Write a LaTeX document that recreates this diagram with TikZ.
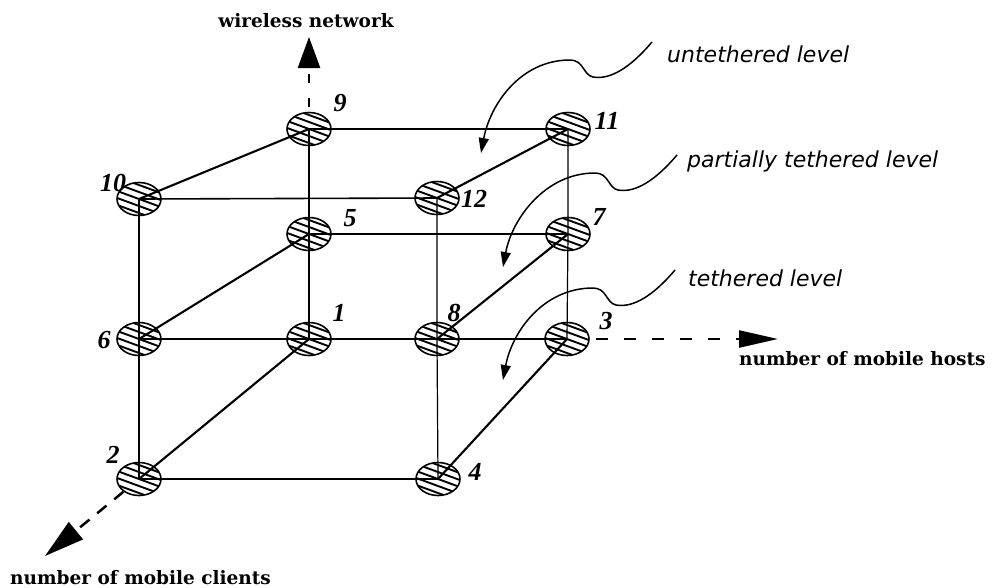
\documentclass[tikz,border=0pt]{standalone}
\usepackage{fontspec}
\setmainfont{Liberation Serif}
\newfontfamily\axisfont{DejaVu Serif}
\newfontfamily\levelfont{DejaVu Sans}
\usetikzlibrary{arrows.meta,calc,shapes.geometric}

\begin{document}
\begin{tikzpicture}[x=1pt,y=-1pt,
  site/.style={shape=ellipse, draw, line width=1.6pt, fill=white,
    minimum width=44pt, minimum height=33pt, inner sep=0pt,
    path picture={\foreach \k in {-4,...,4}
      \draw[line width=1.9pt] ($(path picture bounding box.center)+(-30,7*\k-11)$) -- ++(60,22);}},
  thinedge/.style={line width=1.2pt},
  flatedge/.style={line width=1.6pt},
  diagedge/.style={line width=2.1pt},
  axis/.style={line width=2.5pt},
  num/.style={font=\fontsize{26}{26}\selectfont\bfseries\itshape, inner sep=0pt},
  axislabel/.style={font=\axisfont\fontsize{18.5}{18.5}\selectfont\bfseries, inner sep=0pt},
  levellabel/.style={font=\levelfont\fontsize{22}{22}\selectfont\itshape, inner sep=0pt, anchor=base west},
  callout/.style={line width=1.5pt, -{Triangle[length=15pt,width=10pt]}}]

\useasboundingbox (0,0) rectangle (997,587);

% lattice sites
\node[site] (n9)  at (309,129) {};
\node[site] (n11) at (568,129) {};
\node[site] (n10) at (139,199) {};
\node[site] (n12) at (437,198) {};
\node[site] (n5)  at (309,234) {};
\node[site] (n7)  at (568,234) {};
\node[site] (n6)  at (139,339) {};
\node[site] (n1)  at (309,339) {};
\node[site] (n8)  at (437,339) {};
\node[site] (n3)  at (567,339) {};
\node[site] (n2)  at (139,479) {};
\node[site] (n4)  at (438,479) {};

% vertical edges
\draw[thinedge] (n10.center) -- (n6.center) -- (n2.center);
\draw[thinedge] (n9.center) -- (n5.center) -- (n1.center);
\draw[thinedge] (n12.center) -- (n8.center) -- (n4.center);
\draw[thinedge] (n11.center) -- (n7.center) -- (n3.center);
% horizontal edges
\draw[flatedge] (n9.center) -- (n11.center);
\draw[flatedge] (n10.center) -- (n12.center);
\draw[flatedge] (n5.center) -- (n7.center);
\draw[flatedge] (n6.center) -- (n1.center) -- (n8.center) -- (n3.center);
\draw[flatedge] (n2.center) -- (n4.center);
% depth edges
\draw[diagedge] (n10.center) -- (n9.center);
\draw[diagedge] (n12.center) -- (n11.center);
\draw[diagedge] (n6.center) -- (n5.center);
\draw[diagedge] (n8.center) -- (n7.center);
\draw[diagedge] (n2.center) -- (n1.center);
\draw[diagedge] (n4.center) -- (n3.center);

% site numbers
\node[num] (t9)  at (340,103) {9};
\node[num] (t11) at (607,121) {11};
\node[num] (t10) at (113,183) {10};
\node[num] (t12) at (474,199) {12};
\node[num] (t5)  at (350,218) {5};
\node[num] (t7)  at (599,217) {7};
\node[num] (t1)  at (339,313) {1};
\node[num] (t8)  at (454,313) {8};
\node[num] (t3)  at (606,321) {3};
\node[num] (t6)  at (104,340) {6};
\node[num] (t2)  at (113,455) {2};
\node[num] (t4)  at (475,472) {4};

% axes
\coordinate (wtip) at (309,37);
\coordinate (htip) at (778,339);
\coordinate (ctip) at (45,556);
\draw[axis, dash pattern=on 9pt off 15pt, dash phase=19pt,
  -{Triangle[length=31pt,width=22pt]}] (n9) -- (wtip);
\draw[axis, dash pattern=on 12pt off 16pt, dash phase=-6pt,
  -{Triangle[length=39pt,width=17pt]}] (n3) -- (htip);
\draw[axis, dash pattern=on 12pt off 10pt,
  -{Triangle[length=40pt,width=22pt]}] (n2) -- (ctip);
\node[axislabel, anchor=base] (lw) at (306,27) {wireless network};
\node[axislabel, anchor=base west] (lh) at (739,365) {number of mobile hosts};
\node[axislabel, anchor=base west] (lc) at (10,584) {number of mobile clients};

% level callouts
\node[levellabel] (lu) at (667,62) {untethered level};
\node[levellabel] (lp) at (687,167) {partially tethered level};
\node[levellabel] (lt) at (688,286) {tethered level};
\coordinate (us) at (652,42);
\coordinate (ut) at (481,153);
\coordinate (ps) at (677,155);
\coordinate (pt) at (503,267);
\coordinate (ts) at (675,270);
\coordinate (tt) at (503,380);
\draw[callout] (us) .. controls +(-22,26) and +(17,3) .. ++(-59,35)
  .. controls +(-10,-2) and +(14,0) .. ++(-23,-17)
  .. controls +(-50,0) and +(9,-48) .. (ut);
\draw[callout] (ps) .. controls +(-22,26) and +(17,3) .. ++(-59,35)
  .. controls +(-10,-2) and +(14,0) .. ++(-23,-17)
  .. controls +(-50,0) and +(9,-48) .. (pt);
\draw[callout] (ts) .. controls +(-22,26) and +(17,3) .. ++(-59,35)
  .. controls +(-10,-2) and +(14,0) .. ++(-23,-17)
  .. controls +(-50,0) and +(9,-48) .. (tt);
\end{tikzpicture}
\end{document}
